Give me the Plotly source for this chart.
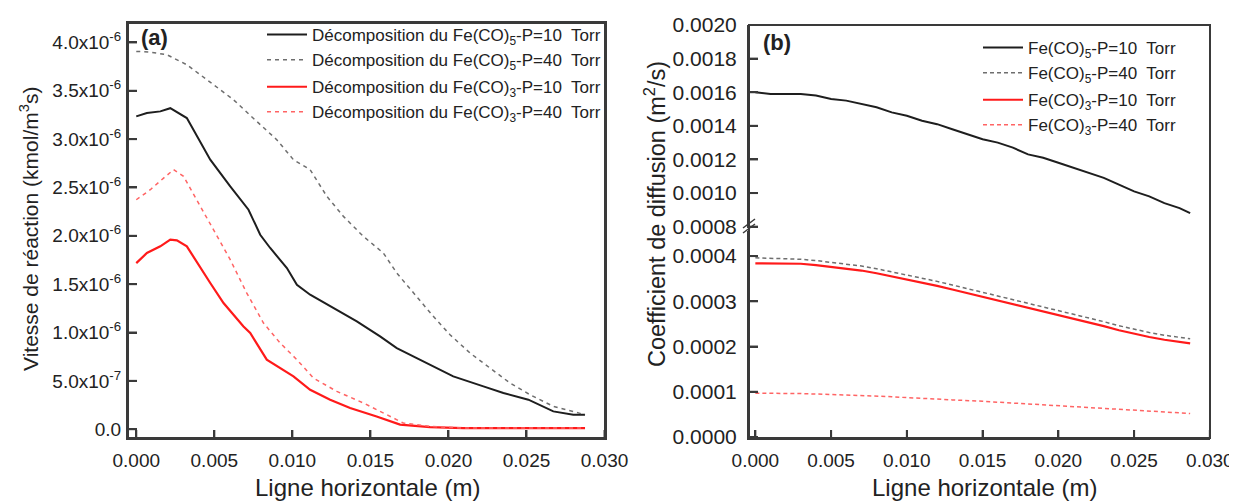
import plotly.graph_objects as go

FONT = "Liberation Sans, Arial, sans-serif"
TXT = "#222222"

# ---------------- Panel (a): reaction rate (values in 1e-6 kmol/m3s) ----------------
xa_fe5_10 = [0.0, 0.00068, 0.00154, 0.00218, 0.00324, 0.00474, 0.00602, 0.00719, 0.00794,
             0.00858, 0.00965, 0.01029, 0.01114, 0.01242, 0.01413, 0.01562, 0.01669, 0.01797,
             0.02031, 0.02224, 0.02352, 0.02512, 0.02672, 0.02800, 0.02875]
ya_fe5_10 = [3.235, 3.27, 3.287, 3.32, 3.218, 2.787, 2.511, 2.27, 2.011,
             1.874, 1.667, 1.494, 1.391, 1.270, 1.115, 0.960, 0.839, 0.736,
             0.546, 0.443, 0.374, 0.305, 0.184, 0.150, 0.150]

xa_fe5_40 = [0.0, 0.00090, 0.00196, 0.00324, 0.00495, 0.00623, 0.00772, 0.00900, 0.01007,
             0.01114, 0.01221, 0.01327, 0.01455, 0.01583, 0.01669, 0.01775, 0.01903, 0.02010,
             0.02138, 0.02266, 0.02394, 0.02522, 0.02672, 0.02875]
ya_fe5_40 = [3.907, 3.90, 3.873, 3.769, 3.563, 3.407, 3.183, 2.994, 2.787,
             2.684, 2.408, 2.201, 1.994, 1.822, 1.615, 1.408, 1.167, 0.977,
             0.788, 0.633, 0.478, 0.357, 0.236, 0.150]

xa_fe3_10 = [0.0, 0.00068, 0.00154, 0.00218, 0.00260, 0.00324, 0.00474, 0.00559, 0.00687,
             0.00730, 0.00836, 0.00922, 0.01007, 0.01114, 0.01242, 0.01370, 0.01540, 0.01690,
             0.01882, 0.02095, 0.02875]
ya_fe3_10 = [1.718, 1.822, 1.891, 1.960, 1.953, 1.891, 1.512, 1.305, 1.063,
             0.995, 0.719, 0.633, 0.546, 0.408, 0.305, 0.219, 0.132, 0.047,
             0.022, 0.012, 0.012]

xa_fe3_40 = [0.0, 0.00090, 0.00175, 0.00239, 0.00303, 0.00388, 0.00495, 0.00602, 0.00708,
             0.00815, 0.00922, 0.01029, 0.01135, 0.01285, 0.01455, 0.01583, 0.01711, 0.01882,
             0.02095, 0.02875]
ya_fe3_40 = [2.373, 2.477, 2.597, 2.684, 2.615, 2.373, 2.063, 1.753, 1.408,
             1.098, 0.891, 0.719, 0.529, 0.391, 0.271, 0.167, 0.064, 0.029,
             0.012, 0.012]

a_yticks = [0.0, 0.5, 1.0, 1.5, 2.0, 2.5, 3.0, 3.5, 4.0]
a_yticklabels = ["0.0", "5.0x10<sup>-7</sup>", "1.0x10<sup>-6</sup>", "1.5x10<sup>-6</sup>",
                 "2.0x10<sup>-6</sup>", "2.5x10<sup>-6</sup>", "3.0x10<sup>-6</sup>",
                 "3.5x10<sup>-6</sup>", "4.0x10<sup>-6</sup>"]
SCALE_A = 1e-6

# ---------------- Panel (b): diffusion coefficient (m2/s) ----------------
xb = [0.0, 0.001, 0.002, 0.003, 0.004, 0.005, 0.006, 0.007, 0.008, 0.009, 0.010,
      0.011, 0.012, 0.013, 0.014, 0.015, 0.016, 0.017, 0.018, 0.019, 0.020,
      0.021, 0.022, 0.023, 0.024, 0.025, 0.026, 0.027, 0.028, 0.0287]
yb_fe5_10 = [0.00160, 0.00159, 0.00159, 0.00159, 0.00158, 0.00156, 0.00155, 0.00153, 0.00151,
             0.00148, 0.00146, 0.00143, 0.00141, 0.00138, 0.00135, 0.00132, 0.00130, 0.00127,
             0.00123, 0.00121, 0.00118, 0.00115, 0.00112, 0.00109, 0.00105, 0.00101, 0.00098,
             0.00094, 0.00091, 0.00088]
yb_fe5_40 = [0.000396, 0.000395, 0.000394, 0.000393, 0.000390, 0.000386, 0.000382, 0.000378,
             0.000372, 0.000365, 0.000358, 0.000352, 0.000344, 0.000336, 0.000328, 0.000320,
             0.000312, 0.000304, 0.000295, 0.000287, 0.000279, 0.000271, 0.000263, 0.000255,
             0.000246, 0.000238, 0.000231, 0.000225, 0.000220, 0.000217]
yb_fe3_10 = [0.000384, 0.000384, 0.000384, 0.000383, 0.000380, 0.000376, 0.000372, 0.000368,
             0.000362, 0.000355, 0.000348, 0.000342, 0.000334, 0.000326, 0.000318, 0.000310,
             0.000302, 0.000294, 0.000285, 0.000277, 0.000269, 0.000261, 0.000253, 0.000245,
             0.000236, 0.000228, 0.000221, 0.000215, 0.000210, 0.000207]
yb_fe3_40 = [0.000097, 0.000097, 0.000096, 0.000096, 0.000095, 0.000094, 0.000093, 0.000092,
             0.000091, 0.000089, 0.000087, 0.000086, 0.000084, 0.000082, 0.000081, 0.000079,
             0.000077, 0.000075, 0.000073, 0.000071, 0.000069, 0.000067, 0.000065, 0.000063,
             0.000061, 0.000059, 0.000057, 0.000055, 0.000053, 0.000052]
b_yticks_low = [0.0, 0.0001, 0.0002, 0.0003, 0.0004]
b_yticks_high = [0.0008, 0.0010, 0.0012, 0.0014, 0.0016, 0.0018, 0.0020]

x_ticks = [0.0, 0.005, 0.010, 0.015, 0.020, 0.025, 0.030]
x_ticklabels = ["0.000", "0.005", "0.010", "0.015", "0.020", "0.025", "0.030"]

labels_a = ["Décomposition du Fe(CO)<sub>5</sub>-P=10\u00a0 Torr",
            "Décomposition du Fe(CO)<sub>5</sub>-P=40\u00a0 Torr",
            "Décomposition du Fe(CO)<sub>3</sub>-P=10\u00a0 Torr",
            "Décomposition du Fe(CO)<sub>3</sub>-P=40\u00a0 Torr"]
labels_b = ["Fe(CO)<sub>5</sub>-P=10\u00a0 Torr",
            "Fe(CO)<sub>5</sub>-P=40\u00a0 Torr",
            "Fe(CO)<sub>3</sub>-P=10\u00a0 Torr",
            "Fe(CO)<sub>3</sub>-P=40\u00a0 Torr"]

# page body has an 8px margin: figure sits at (8, 8) in the window
OFF = 8
W, H = 1237 - OFF, 501 - OFF
def px(x): return (x - OFF) / W
def py(y): return 1 - (y - OFF) / H

A_L, A_R, A_T, A_B = 128, 605, 23, 438
B_L, B_R, B_T, B_B = 749, 1210, 25, 438
B_SPLIT_LO_PX, B_SPLIT_HI_PX = 231, 228

A_X0, A_X1 = px(A_L), px(A_R)
A_Y0, A_Y1 = py(A_B), py(A_T)
B_X0, B_X1 = px(B_L), px(B_R)
B_Y0, B_Y1 = py(B_B), py(B_T)
B_SPLIT_LO, B_SPLIT_HI = py(B_SPLIT_LO_PX), py(B_SPLIT_HI_PX)

XR_A = [-0.00053, 0.03003]
YR_A = [-0.091e-6, 4.201e-6]
XR_B = [-0.00042, 0.03001]
YR_B_LO = [-0.0000022, 0.0004554]
YR_B_HI = [0.000792, 0.0020]

BLACK = "#1e1e1e"
GRAY = "#6e6e6e"
RED = "#ff1a1a"
LRED = "#ff6464"
AX_LINE = "#3a3a3a"
XTICKLEN, YTICKLEN = 8, 9

fig = go.Figure()

def sc(v): return [t * SCALE_A for t in v]

fig.add_trace(go.Scatter(x=xa_fe5_10, y=sc(ya_fe5_10), mode="lines", name=labels_a[0],
                         line=dict(color=BLACK, width=2), xaxis="x", yaxis="y",
                         legend="legend", legendgroup="a1"))
fig.add_trace(go.Scatter(x=xa_fe5_40, y=sc(ya_fe5_40), mode="lines", name=labels_a[1],
                         line=dict(color=GRAY, width=1.5, dash="4px,4px"), xaxis="x", yaxis="y",
                         legend="legend", legendgroup="a1"))
fig.add_trace(go.Scatter(x=xa_fe3_10, y=sc(ya_fe3_10), mode="lines", name=labels_a[2],
                         line=dict(color=RED, width=2.2), xaxis="x", yaxis="y",
                         legend="legend", legendgroup="a2"))
fig.add_trace(go.Scatter(x=xa_fe3_40, y=sc(ya_fe3_40), mode="lines", name=labels_a[3],
                         line=dict(color=LRED, width=1.5, dash="4px,4px"), xaxis="x", yaxis="y",
                         legend="legend", legendgroup="a2"))

fig.add_trace(go.Scatter(x=xb, y=yb_fe5_10, mode="lines", name=labels_b[0],
                         line=dict(color=BLACK, width=2), xaxis="x2", yaxis="y3",
                         legend="legend2", legendgroup="b1"))
fig.add_trace(go.Scatter(x=xb, y=yb_fe5_40, mode="lines", name=labels_b[1],
                         line=dict(color=GRAY, width=1.5, dash="4px,3px"), xaxis="x2", yaxis="y2",
                         legend="legend2", legendgroup="b1"))
fig.add_trace(go.Scatter(x=xb, y=yb_fe3_10, mode="lines", name=labels_b[2],
                         line=dict(color=RED, width=2.2), xaxis="x2", yaxis="y2",
                         legend="legend2", legendgroup="b2"))
fig.add_trace(go.Scatter(x=xb, y=yb_fe3_40, mode="lines", name=labels_b[3],
                         line=dict(color=LRED, width=1.5, dash="4px,3px"), xaxis="x2", yaxis="y2",
                         legend="legend2", legendgroup="b2"))


# inward tick marks as line segments in each axis' own data units
def ext(rng, npx, total_px):
    return (rng[1] - rng[0]) * npx / total_px


def xtick_trace(ticks, xr, yr, ylen_px, ytot_px, xa, ya):
    d = ext(yr, ylen_px, ytot_px)
    xs, ys = [], []
    for v in ticks:
        xs += [v, v, None]
        ys += [yr[0], yr[0] + d, None]
    return go.Scatter(x=xs, y=ys, mode="lines", xaxis=xa, yaxis=ya, showlegend=False,
                      hoverinfo="skip", cliponaxis=False,
                      line=dict(color=AX_LINE, width=2))


def ytick_trace(ticks, xr, xlen_px, xtot_px, xa, ya):
    d = ext(xr, xlen_px, xtot_px)
    xs, ys = [], []
    for v in ticks:
        xs += [xr[0], xr[0] + d, None]
        ys += [v, v, None]
    return go.Scatter(x=xs, y=ys, mode="lines", xaxis=xa, yaxis=ya, showlegend=False,
                      hoverinfo="skip", cliponaxis=False,
                      line=dict(color=AX_LINE, width=2))


fig.add_trace(xtick_trace(x_ticks, XR_A, YR_A, XTICKLEN, A_B - A_T, "x", "y"))
fig.add_trace(ytick_trace([v * SCALE_A for v in a_yticks], XR_A, YTICKLEN, A_R - A_L, "x", "y"))
fig.add_trace(xtick_trace(x_ticks, XR_B, YR_B_LO, XTICKLEN, B_B - B_SPLIT_LO_PX, "x2", "y2"))
fig.add_trace(ytick_trace(b_yticks_low, XR_B, YTICKLEN, B_R - B_L, "x2", "y2"))
fig.add_trace(ytick_trace(b_yticks_high, XR_B, YTICKLEN, B_R - B_L, "x2", "y3"))


def xax(**kw):
    d = dict(tickmode="array", tickvals=x_ticks, ticktext=x_ticklabels, ticks="inside",
             ticklen=XTICKLEN, tickwidth=2, tickcolor=AX_LINE, showgrid=False, zeroline=False,
             tickfont=dict(family=FONT, size=19, color=TXT), ticklabelstandoff=4,
             showline=True, linecolor=AX_LINE, linewidth=2, layer="above traces",
             automargin=False)
    d.update(kw)
    return d


def yax(tv, tt, size, standoff, **kw):
    d = dict(tickmode="array", tickvals=tv, ticktext=tt, ticks="inside", ticklen=YTICKLEN,
             tickwidth=2, tickcolor=AX_LINE, showgrid=False, zeroline=False,
             tickfont=dict(family=FONT, size=size, color=TXT), ticklabelstandoff=standoff,
             layer="above traces", automargin=False)
    d.update(kw)
    return d


fig.update_layout(
    template="none",
    width=W, height=H, margin=dict(l=0, r=0, t=0, b=0, pad=0),
    paper_bgcolor="white", plot_bgcolor="rgba(0,0,0,0)",
    font=dict(family=FONT, color=TXT),
    xaxis=xax(domain=[A_X0, A_X1], range=XR_A, anchor="y", mirror=True),
    yaxis=yax([v * SCALE_A for v in a_yticks], a_yticklabels, 19, 1,
              domain=[A_Y0, A_Y1], range=YR_A, anchor="x",
              showline=True, linecolor=AX_LINE, linewidth=2, mirror=True),
    xaxis2=xax(domain=[B_X0, B_X1], range=XR_B, anchor="y2", mirror=False),
    yaxis2=yax(b_yticks_low, ["%.4f" % v for v in b_yticks_low], 21, 6,
               domain=[B_Y0, B_SPLIT_LO], range=YR_B_LO, anchor="x2",
               showline=True, linecolor=AX_LINE, linewidth=2),
    yaxis3=yax(b_yticks_high, ["%.4f" % v for v in b_yticks_high], 21, 6,
               domain=[B_SPLIT_HI, B_Y1], range=YR_B_HI, anchor="x2",
               showline=True, linecolor=AX_LINE, linewidth=2),
    legend=dict(x=px(606), xanchor="right", y=py(17), yanchor="top",
                bgcolor="rgba(0,0,0,0)", font=dict(family=FONT, size=17, color=TXT),
                traceorder="grouped", tracegroupgap=2, itemwidth=40, borderwidth=0),
    legend2=dict(x=px(1181), xanchor="right", y=py(30), yanchor="top",
                 bgcolor="rgba(0,0,0,0)", font=dict(family=FONT, size=17, color=TXT),
                 traceorder="grouped", tracegroupgap=2, itemwidth=40, borderwidth=0),
    showlegend=True,
)

# frames of both panels
fig.add_shape(type="rect", xref="paper", yref="paper", x0=A_X0, x1=A_X1, y0=A_Y0, y1=A_Y1,
              line=dict(color=AX_LINE, width=2), fillcolor="rgba(0,0,0,0)", layer="above")
fig.add_shape(type="rect", xref="paper", yref="paper", x0=B_X0, x1=B_X1, y0=B_Y0, y1=B_Y1,
              line=dict(color=AX_LINE, width=2), fillcolor="rgba(0,0,0,0)", layer="above")

# axis break marks on panel (b)
for dy in (0, 5):
    fig.add_shape(type="line", xref="paper", yref="paper",
                  x0=px(B_L - 6), x1=px(B_L + 6),
                  y0=py(233 - dy), y1=py(224 - dy),
                  line=dict(color=AX_LINE, width=1.5), layer="above")

# axis titles and panel labels
ANN = dict(xref="paper", yref="paper", showarrow=False, xanchor="center", yanchor="middle")
fig.add_annotation(text="Ligne horizontale (m)", x=px(368), y=py(487),
                   font=dict(family=FONT, size=24, color=TXT), **ANN)
fig.add_annotation(text="Ligne horizontale (m)", x=px(985), y=py(487),
                   font=dict(family=FONT, size=24, color=TXT), **ANN)
fig.add_annotation(text="Vitesse de réaction (kmol/m<sup>3</sup>s)", x=px(29), y=py(229),
                   textangle=-90, font=dict(family=FONT, size=21, color=TXT), **ANN)
fig.add_annotation(text="Coefficient de diffusion (m<sup>2</sup>/s)", x=px(655), y=py(214),
                   textangle=-90, font=dict(family=FONT, size=23.5, color=TXT), **ANN)
fig.add_annotation(text="<b>(a)</b>", x=px(154), y=py(37),
                   font=dict(family=FONT, size=22, color=TXT), **ANN)
fig.add_annotation(text="<b>(b)</b>", x=px(777), y=py(42),
                   font=dict(family=FONT, size=22, color=TXT), **ANN)

fig.write_html("out.html")
